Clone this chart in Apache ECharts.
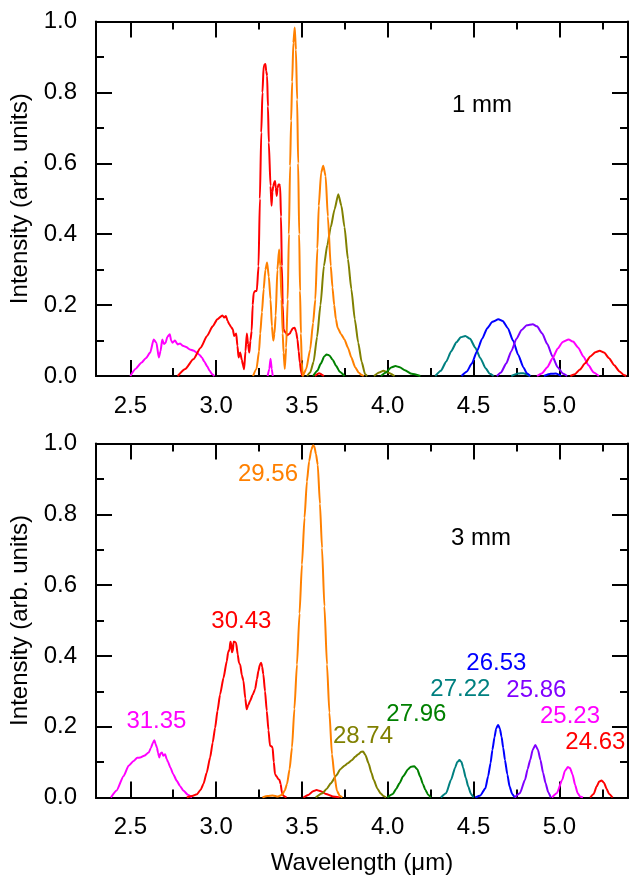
<!DOCTYPE html>
<html><head><meta charset="utf-8">
<script src="https://cdn.jsdelivr.net/npm/echarts@6/dist/echarts.min.js"></script>
<style>html,body{margin:0;padding:0;background:#fff}#c{width:629px;height:885px}</style>
</head><body><div id="c"></div>
<script>
// ---------- tick values ----------
const xMajorTicks = [2.5, 3.0, 3.5, 4.0, 4.5, 5.0];
const xMinorTicks = [2.75, 3.25, 3.75, 4.25, 4.75, 5.25];

// ---------- 1 mm panel (top) : [wavelength µm, intensity] ----------
const top_3135 = [[2.50,0],[2.53,0.02],[2.566,0.038],[2.59,0.05],[2.616,0.066],[2.636,0.103],[2.652,0.094],[2.666,0.052],[2.676,0.07],[2.686,0.103],[2.696,0.09],[2.706,0.094],[2.715,0.11],[2.73,0.118],[2.738,0.1],[2.746,0.094],[2.76,0.1],[2.776,0.089],[2.79,0.092],[2.806,0.085],[2.825,0.082],[2.847,0.075],[2.867,0.072],[2.887,0.066],[2.902,0.06],[2.917,0.052],[2.932,0.04],[2.947,0.028],[2.962,0.015],[2.977,0.005],[2.99,0]];
const top_3135_b = [[3.30,0],[3.31,0.02],[3.317,0.049],[3.324,0.02],[3.33,0]];
const top_3043 = [[2.776,0],[2.82,0.02],[2.867,0.047],[2.91,0.08],[2.947,0.113],[2.98,0.14],[3.007,0.16],[3.037,0.171],[3.047,0.165],[3.057,0.169],[3.067,0.155],[3.077,0.146],[3.087,0.138],[3.097,0.132],[3.105,0.113],[3.117,0.12],[3.124,0.085],[3.131,0.052],[3.14,0.066],[3.15,0.045],[3.157,0.03],[3.163,0.019],[3.171,0.07],[3.179,0.12],[3.186,0.09],[3.193,0.066],[3.2,0.1],[3.207,0.127],[3.213,0.2],[3.219,0.235],[3.228,0.24],[3.237,0.24],[3.247,0.31],[3.255,0.5],[3.263,0.687],[3.27,0.8],[3.277,0.875],[3.287,0.88],[3.292,0.86],[3.297,0.847],[3.302,0.76],[3.307,0.659],[3.317,0.536],[3.323,0.48],[3.328,0.52],[3.333,0.536],[3.338,0.545],[3.343,0.55],[3.348,0.53],[3.353,0.508],[3.358,0.53],[3.363,0.54],[3.368,0.54],[3.373,0.536],[3.378,0.45],[3.383,0.31],[3.388,0.2],[3.393,0.132],[3.4,0.125],[3.407,0.122],[3.415,0.115],[3.423,0.118],[3.43,0.12],[3.437,0.127],[3.447,0.135],[3.458,0.136],[3.466,0.125],[3.474,0.103],[3.481,0.07],[3.488,0.038],[3.495,0.012],[3.502,0]];
const top_3043_b = [[3.575,0],[3.6,0.008],[3.628,0]];
const top_2956 = [[3.215,0],[3.235,0.02],[3.25,0.07],[3.257,0.12],[3.267,0.18],[3.277,0.245],[3.287,0.3],[3.297,0.32],[3.307,0.28],[3.317,0.216],[3.325,0.14],[3.333,0.1],[3.34,0.12],[3.347,0.17],[3.357,0.3],[3.367,0.357],[3.374,0.31],[3.381,0.216],[3.388,0.12],[3.393,0.066],[3.40,0.02],[3.408,0.08],[3.417,0.216],[3.424,0.4],[3.431,0.593],[3.437,0.72],[3.443,0.83],[3.45,0.94],[3.458,0.983],[3.465,0.92],[3.472,0.78],[3.478,0.6],[3.484,0.4],[3.489,0.24],[3.494,0.12],[3.499,0.04],[3.505,0],[3.525,0.02],[3.548,0.075],[3.565,0.15],[3.578,0.216],[3.59,0.36],[3.598,0.48],[3.612,0.574],[3.624,0.593],[3.638,0.564],[3.651,0.45],[3.668,0.31],[3.678,0.25],[3.688,0.2],[3.698,0.16],[3.708,0.136],[3.728,0.118],[3.748,0.103],[3.768,0.08],[3.788,0.052],[3.81,0.025],[3.83,0.01],[3.848,0.003],[3.86,0]];
const top_2874 = [[3.53,0],[3.548,0.01],[3.568,0.04],[3.588,0.11],[3.608,0.2],[3.628,0.31],[3.648,0.37],[3.668,0.42],[3.69,0.47],[3.712,0.513],[3.73,0.48],[3.748,0.42],[3.768,0.33],[3.788,0.245],[3.808,0.16],[3.828,0.094],[3.848,0.04],[3.868,0.005],[3.88,0]];
const top_2874_b = [[3.92,0],[3.95,0.01],[3.975,0.015],[4.0,0.01],[4.04,0]];
const top_2796 = [[3.565,0],[3.59,0.015],[3.61,0.035],[3.63,0.055],[3.644,0.061],[3.66,0.058],[3.68,0.045],[3.7,0.028],[3.72,0.012],[3.748,0]];
const top_2796_b = [[3.96,0],[3.99,0.01],[4.02,0.024],[4.045,0.028],[4.07,0.025],[4.1,0.016],[4.14,0.006],[4.19,0]];
const top_2722 = [[4.277,0],[4.31,0.015],[4.34,0.04],[4.37,0.07],[4.40,0.095],[4.425,0.109],[4.452,0.113],[4.48,0.105],[4.51,0.08],[4.54,0.05],[4.57,0.022],[4.595,0.006],[4.617,0]];
const top_2722_b = [[4.72,0],[4.76,0.007],[4.79,0.008],[4.83,0]];
const top_2653 = [[4.43,0],[4.46,0.012],[4.49,0.035],[4.52,0.07],[4.55,0.105],[4.58,0.135],[4.61,0.153],[4.645,0.16],[4.67,0.155],[4.70,0.135],[4.73,0.1],[4.76,0.06],[4.79,0.025],[4.81,0.008],[4.83,0]];
const top_2653_b = [[4.91,0],[4.95,0.006],[4.98,0.007],[5.01,0]];
const top_2586 = [[4.636,0],[4.66,0.01],[4.69,0.035],[4.72,0.07],[4.75,0.105],[4.78,0.13],[4.81,0.143],[4.845,0.146],[4.87,0.14],[4.9,0.12],[4.93,0.09],[4.96,0.055],[4.99,0.025],[5.02,0.007],[5.045,0]];
const top_2523 = [[4.87,0],[4.9,0.008],[4.93,0.025],[4.96,0.05],[4.99,0.077],[5.02,0.096],[5.054,0.103],[5.08,0.097],[5.11,0.08],[5.14,0.055],[5.17,0.03],[5.2,0.01],[5.23,0]];
const top_2463 = [[5.064,0],[5.09,0.005],[5.12,0.018],[5.15,0.036],[5.18,0.055],[5.21,0.067],[5.235,0.071],[5.26,0.066],[5.29,0.05],[5.32,0.03],[5.35,0.013],[5.375,0.003],[5.39,0]];

// ---------- 3 mm panel (bottom) ----------
const bot_3135 = [[2.387,0],[2.42,0.02],[2.461,0.061],[2.49,0.09],[2.519,0.103],[2.54,0.112],[2.558,0.113],[2.58,0.118],[2.607,0.127],[2.62,0.14],[2.632,0.155],[2.64,0.162],[2.648,0.15],[2.655,0.141],[2.662,0.125],[2.669,0.113],[2.676,0.125],[2.684,0.127],[2.692,0.118],[2.703,0.122],[2.712,0.108],[2.72,0.1],[2.733,0.085],[2.75,0.066],[2.771,0.047],[2.79,0.032],[2.81,0.019],[2.835,0.008],[2.859,0]];
const bot_3043 = [[2.829,0],[2.86,0.004],[2.888,0.009],[2.91,0.022],[2.926,0.038],[2.945,0.07],[2.965,0.113],[2.98,0.155],[2.994,0.197],[3.008,0.245],[3.023,0.291],[3.043,0.338],[3.062,0.385],[3.07,0.41],[3.078,0.418],[3.083,0.44],[3.087,0.437],[3.092,0.41],[3.097,0.414],[3.102,0.44],[3.107,0.44],[3.116,0.437],[3.126,0.404],[3.133,0.38],[3.14,0.376],[3.15,0.345],[3.159,0.33],[3.17,0.28],[3.178,0.249],[3.188,0.262],[3.198,0.273],[3.213,0.29],[3.227,0.306],[3.238,0.335],[3.246,0.357],[3.255,0.375],[3.262,0.381],[3.268,0.37],[3.275,0.348],[3.285,0.3],[3.295,0.245],[3.305,0.19],[3.314,0.146],[3.322,0.145],[3.329,0.141],[3.336,0.1],[3.343,0.066],[3.352,0.06],[3.362,0.052],[3.369,0.05],[3.376,0.038],[3.383,0.015],[3.391,0.005],[3.41,0]];
const bot_3043_b = [[3.508,0],[3.54,0.008],[3.565,0.018],[3.585,0.021],[3.61,0.018],[3.64,0.01],[3.68,0.003],[3.72,0]];
const bot_2956 = [[3.27,0],[3.30,0.004],[3.33,0.006],[3.36,0.003],[3.385,0.008],[3.40,0.02],[3.413,0.038],[3.428,0.08],[3.442,0.141],[3.456,0.25],[3.471,0.376],[3.486,0.52],[3.5,0.658],[3.515,0.79],[3.529,0.893],[3.542,0.95],[3.555,0.983],[3.565,0.995],[3.572,0.992],[3.582,0.97],[3.592,0.94],[3.605,0.83],[3.617,0.705],[3.631,0.54],[3.646,0.376],[3.66,0.24],[3.675,0.122],[3.69,0.06],[3.704,0.019],[3.72,0.005],[3.735,0]];
const bot_2874 = [[3.58,0],[3.62,0.012],[3.645,0.025],[3.668,0.04],[3.7,0.062],[3.724,0.08],[3.748,0.09],[3.768,0.097],[3.79,0.105],[3.81,0.115],[3.828,0.122],[3.845,0.129],[3.856,0.13],[3.87,0.12],[3.888,0.097],[3.905,0.07],[3.918,0.05],[3.94,0.025],[3.958,0.012],[3.975,0.004],[3.99,0]];
const bot_2796 = [[3.998,0],[4.03,0.01],[4.05,0.025],[4.068,0.04],[4.09,0.06],[4.119,0.08],[4.135,0.087],[4.155,0.088],[4.172,0.08],[4.189,0.059],[4.205,0.038],[4.219,0.022],[4.235,0.008],[4.25,0]];
const bot_2722 = [[4.31,0],[4.34,0.012],[4.369,0.05],[4.393,0.085],[4.405,0.1],[4.418,0.106],[4.43,0.1],[4.439,0.085],[4.455,0.055],[4.469,0.031],[4.485,0.01],[4.50,0]];
const bot_2653 = [[4.51,0],[4.54,0.006],[4.569,0.026],[4.585,0.06],[4.599,0.097],[4.61,0.135],[4.622,0.17],[4.632,0.195],[4.643,0.205],[4.653,0.195],[4.663,0.172],[4.673,0.14],[4.683,0.106],[4.697,0.065],[4.71,0.031],[4.725,0.01],[4.74,0]];
const bot_2586 = [[4.74,0],[4.77,0.012],[4.8,0.05],[4.815,0.08],[4.83,0.106],[4.845,0.135],[4.86,0.148],[4.875,0.135],[4.89,0.106],[4.905,0.07],[4.92,0.04],[4.935,0.015],[4.95,0]];
const bot_2523 = [[4.957,0],[4.985,0.012],[5.017,0.05],[5.032,0.075],[5.05,0.086],[5.062,0.083],[5.077,0.065],[5.092,0.035],[5.107,0.012],[5.12,0.003],[5.137,0]];
const bot_2463 = [[5.18,0],[5.2,0.01],[5.217,0.031],[5.232,0.045],[5.245,0.048],[5.26,0.042],[5.275,0.025],[5.29,0.01],[5.31,0]];

// ---------- text annotations (data coordinates) ----------
const annotText = ['31.35','30.43','29.56','28.74','27.96','27.22','26.53','25.86','25.23','24.63'];
const annotX    = [2.652, 3.147, 3.302, 3.856, 4.167, 4.423, 4.633, 4.866, 5.062, 5.21];
const annotY    = [0.214, 0.498, 0.913, 0.172, 0.236, 0.306, 0.38, 0.302, 0.23, 0.156];
const panelText = ['1 mm', '3 mm'];
const panelX    = [4.549, 4.543];
const panelY    = [0.762, 0.732];

// ---------- styles ----------
const C = {m:'#FF00FF', r:'#FF0000', o:'#FF8000', ol:'#808000', g:'#008000', t:'#008080', b:'#0000FF', p:'#8000FF'};
const annotColor = [C.m, C.r, C.o, C.ol, C.g, C.t, C.b, C.p, C.m, C.r];
const FONT = '"Liberation Sans", Arial, sans-serif';
const FS = 24;

function xAxesFor(g, withName) {
  const base = {gridIndex:g, type:'value', min:2.3, max:5.4, splitLine:{show:false},
    axisLine:{show:true, onZero:false, lineStyle:{color:'#000', width:2}}};
  const tickStyle = {color:'#000', width:2};
  return [
    Object.assign({}, base, {position:'bottom',
      axisTick:{show:true, inside:true, length:16, customValues:xMajorTicks, lineStyle:tickStyle},
      axisLabel:{show:true, customValues:xMajorTicks, formatter:v=>Number(v).toFixed(1), margin:18, fontSize:FS, color:'#000', fontFamily:FONT},
      name: withName ? 'Wavelength (μm)' : '', nameLocation:'middle', nameGap:54,
      nameTextStyle:{fontSize:FS, color:'#000', fontFamily:FONT}}),
    Object.assign({}, base, {position:'bottom',
      axisTick:{show:true, inside:true, length:8, customValues:xMinorTicks, lineStyle:tickStyle},
      axisLabel:{show:false}}),
    Object.assign({}, base, {position:'top',
      axisTick:{show:true, inside:true, length:16, customValues:xMajorTicks, lineStyle:tickStyle},
      axisLabel:{show:false}}),
    Object.assign({}, base, {position:'top',
      axisTick:{show:true, inside:true, length:8, customValues:xMinorTicks, lineStyle:tickStyle},
      axisLabel:{show:false}})
  ];
}
function yAxesFor(g) {
  const base = {gridIndex:g, type:'value', min:0, max:1, interval:0.2, splitLine:{show:false},
    axisLine:{show:true, onZero:false, lineStyle:{color:'#000', width:2}},
    axisTick:{show:true, inside:true, length:16, lineStyle:{color:'#000', width:2}},
    minorTick:{show:true, splitNumber:2, length:8, lineStyle:{color:'#000', width:2}},
    minorSplitLine:{show:false}};
  return [
    Object.assign({}, base, {position:'left',
      axisLabel:{show:true, formatter:v=>Number(v).toFixed(1), margin:19, fontSize:FS, color:'#000', fontFamily:FONT},
      name:'Intensity (arb. units)', nameLocation:'middle', nameGap:58, nameRotate:90,
      nameTextStyle:{fontSize:FS, color:'#000', fontFamily:FONT}}),
    Object.assign({}, base, {position:'right', axisLabel:{show:false}})
  ];
}

function line(data, color, g) {
  return {type:'line', data:data, xAxisIndex:g*4, yAxisIndex:g*2, showSymbol:false, symbol:'none',
    smooth:0.2, smoothMonotone:'x', lineStyle:{color:color, width:2}, itemStyle:{color:color},
    silent:true, animation:false, z:3};
}
function textSeries(g, items) {
  return {type:'scatter', xAxisIndex:g*4, yAxisIndex:g*2, symbolSize:0, silent:true, animation:false, z:5,
    itemStyle:{opacity:1},
    data: items.map(it=>({value:[it.x, it.y], itemStyle:{opacity:1},
      label:{show:true, position:'inside', formatter:it.t, color:it.c, opacity:1, fontSize:FS, fontFamily:FONT}}))};
}

const series = [
  line(top_3135, C.m, 0), line(top_3135_b, C.m, 0),
  line(top_3043, C.r, 0), line(top_3043_b, C.r, 0),
  line(top_2874, C.ol, 0), line(top_2874_b, C.ol, 0),
  line(top_2796, C.g, 0), line(top_2796_b, C.g, 0),
  line(top_2956, C.o, 0),
  line(top_2722, C.t, 0), line(top_2722_b, C.t, 0),
  line(top_2653, C.b, 0), line(top_2653_b, C.b, 0),
  line(top_2586, C.p, 0), line(top_2523, C.m, 0), line(top_2463, C.r, 0),
  line(bot_3135, C.m, 1), line(bot_3043, C.r, 1), line(bot_3043_b, C.r, 1),
  line(bot_2874, C.ol, 1), line(bot_2956, C.o, 1), line(bot_2796, C.g, 1),
  line(bot_2722, C.t, 1), line(bot_2653, C.b, 1), line(bot_2586, C.p, 1),
  line(bot_2523, C.m, 1), line(bot_2463, C.r, 1),
  textSeries(1, annotText.map((t,i)=>({t:t, x:annotX[i], y:annotY[i], c:annotColor[i]}))),
  textSeries(0, [{t:panelText[0], x:panelX[0], y:panelY[0], c:'#000'}]),
  textSeries(1, [{t:panelText[1], x:panelX[1], y:panelY[1], c:'#000'}])
];

const chart = echarts.init(document.getElementById('c'), null, {renderer:'canvas'});
chart.setOption({
  backgroundColor:'#fff',
  animation:false,
  grid:[
    {left:96, right:1, top:21.5, height:354.5},
    {left:96, right:1, top:443.5, height:354}
  ],
  xAxis: xAxesFor(0, false).concat(xAxesFor(1, true)),
  yAxis: yAxesFor(0).concat(yAxesFor(1)),
  series: series
});
</script></body></html>
